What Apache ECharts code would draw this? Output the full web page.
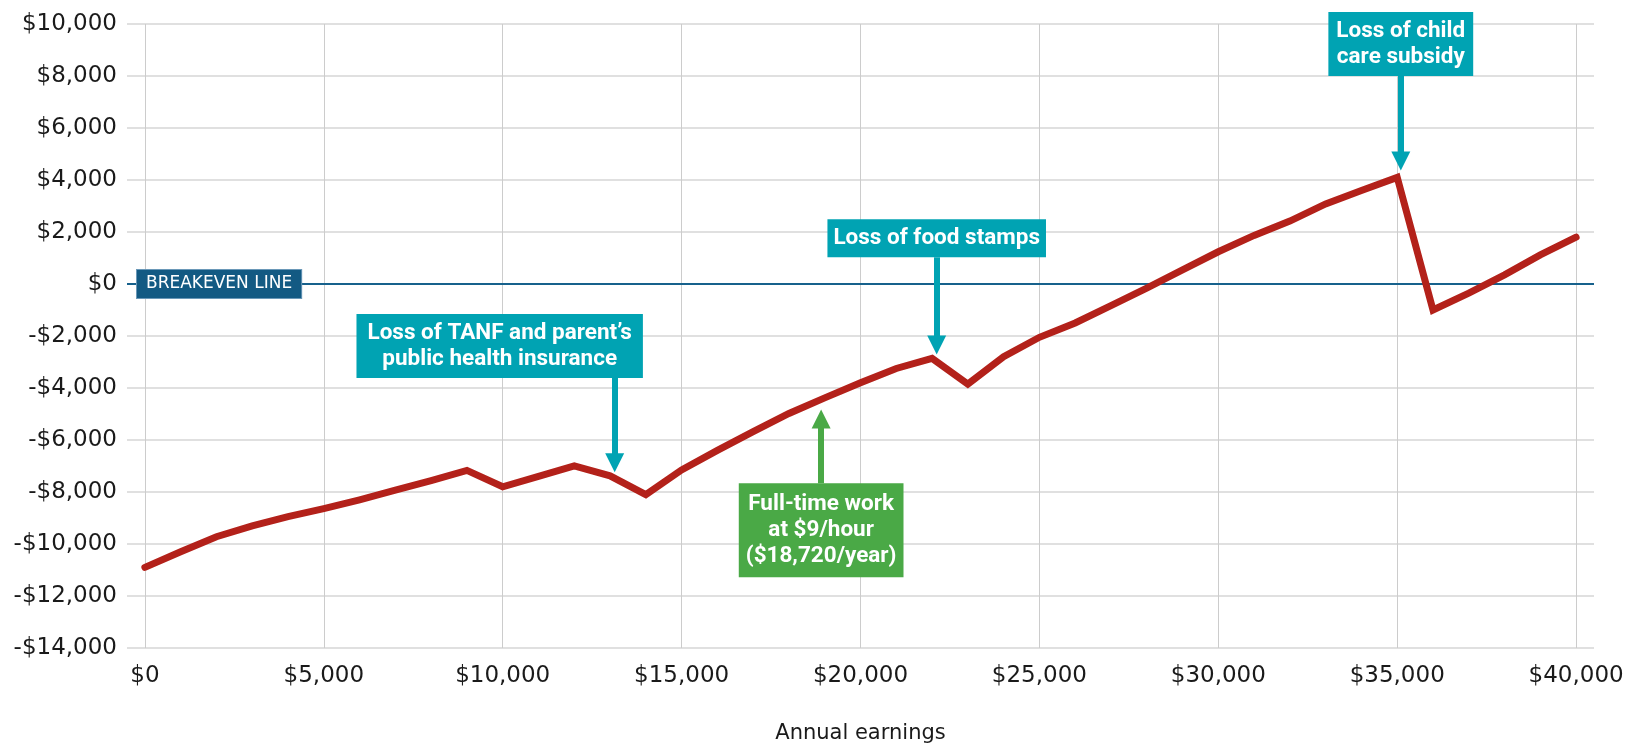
<!DOCTYPE html>
<html>
<head>
<meta charset="utf-8">
<script src="https://cdn.jsdelivr.net/npm/echarts@6/dist/echarts.min.js"></script>
<style>
  html, body { margin: 0; padding: 0; background: #ffffff; }
  #chart { width: 1625px; height: 746px; }
</style>
</head>
<body>
<div id="chart"></div>
<script>
// annual earnings (x) and net gain vs. zero earnings (y)
const earnings = [
  0, 1000, 2000, 3000, 4000, 5000, 6000, 7000, 8000, 9000,
  10000, 11000, 12000, 13000, 14000, 15000, 16000, 17000, 18000, 19000,
  20000, 21000, 22000, 23000, 24000, 25000, 26000, 27000, 28000, 29000,
  30000, 31000, 32000, 33000, 34000, 35000, 36000, 37000, 38000, 39000, 40000
];
const netGain = [
  -10900, -10300, -9720, -9300, -8950, -8640, -8300, -7930, -7560, -7170,
  -7800, -7400, -7000, -7380, -8100, -7150, -6400, -5680, -4980, -4380,
  -3800, -3250, -2860, -3850, -2800, -2050, -1500, -830, -160, 540,
  1240, 1870, 2420, 3080, 3600, 4100, -1000, -350, 350, 1120, 1800
];
const xTickValues = [0, 5000, 10000, 15000, 20000, 25000, 30000, 35000, 40000];
const breakevenLabel = 'BREAKEVEN LINE';

// annotations: text, x position, where the arrow starts (box edge) and ends (arrow head centre)
const noteText = [
  'Loss of TANF and parent\u2019s\npublic health insurance',
  'Loss of food stamps',
  'Full-time work\nat $9/hour\n($18,720/year)',
  'Loss of child\ncare subsidy'
];
const noteX = [13130, 22130, 18900, 35100];
const noteFrom = [-3615, 1027, -7665, 8000];
const noteTo = [-6874, -2346, -5192, 4731];

const teal = '#00a3b3';
const green = '#4aa946';
const noteColor = [teal, teal, green, teal];
const notePadding = [[6, 11], [6, 6], [8, 7], [6, 8]];
const noteOffset = [[-115, 0], [0, 0], [0, 0], [0, 0]];

function money(value) {
  const text = '$' + Math.abs(value).toLocaleString('en-US');
  return value < 0 ? '-' + text : text;
}

const noteLines = noteText.map((text, i) => {
  const pointsUp = noteTo[i] > noteFrom[i];
  return [
    {
      coord: [noteX[i], noteFrom[i]],
      lineStyle: { color: noteColor[i], width: 6, type: 'solid' },
      label: {
        show: true,
        position: 'start',
        distance: 0,
        formatter: text,
        align: 'center',
        verticalAlign: pointsUp ? 'top' : 'bottom',
        offset: noteOffset[i],
        color: '#ffffff',
        fontFamily: 'Roboto',
        fontWeight: 'bold',
        fontSize: 22.5,
        lineHeight: 26,
        backgroundColor: noteColor[i],
        padding: notePadding[i]
      }
    },
    { coord: [noteX[i], noteTo[i]] }
  ];
});

const chart = echarts.init(document.getElementById('chart'), null, { renderer: 'canvas' });
chart.setOption({
  animation: false,
  backgroundColor: '#ffffff',
  grid: {
    left: 127,
    right: 31,
    top: 24,
    bottom: 98,
    containLabel: false,
    outerBoundsMode: 'none'
  },
  xAxis: {
    type: 'value',
    min: -500,
    max: 40500,
    name: 'Annual earnings',
    nameLocation: 'middle',
    nameGap: 75,
    nameTextStyle: { color: '#1a1a1a', fontFamily: 'DejaVu Sans', fontSize: 21 },
    axisLine: { show: false },
    axisTick: {
      show: true,
      length: 10,
      customValues: xTickValues,
      lineStyle: { color: '#cccccc', width: 1 }
    },
    axisLabel: {
      customValues: xTickValues,
      margin: 17,
      color: '#1a1a1a',
      fontFamily: 'DejaVu Sans',
      fontSize: 23,
      formatter: money
    },
    splitLine: {
      show: true,
      lineStyle: { color: '#cccccc', width: 1 }
    }
  },
  yAxis: {
    type: 'value',
    min: -14000,
    max: 10000,
    interval: 2000,
    axisLine: { show: false },
    axisTick: { show: false },
    axisLabel: {
      margin: 10,
      color: '#1a1a1a',
      fontFamily: 'DejaVu Sans',
      fontSize: 23,
      formatter: money
    },
    splitLine: {
      show: true,
      lineStyle: { color: '#d6d6d6', width: 1.5 }
    }
  },
  series: [
    {
      name: 'Breakeven',
      type: 'line',
      data: [],
      silent: true,
      markLine: {
        z: 1,
        silent: true,
        symbol: 'none',
        animation: false,
        emphasis: { disabled: true },
        data: [{
          yAxis: 0,
          lineStyle: { color: '#17618c', width: 2, type: 'solid' },
          label: {
            show: true,
            position: 'insideStart',
            distance: 10,
            formatter: breakevenLabel,
            color: '#ffffff',
            fontFamily: 'DejaVu Sans',
            fontSize: 17,
            lineHeight: 18,
            backgroundColor: '#135a83',
            borderColor: '#6a98b8',
            borderWidth: 1,
            padding: [5, 9]
          }
        }]
      }
    },
    {
      name: 'Net gain',
      type: 'line',
      z: 3,
      data: earnings.map((x, i) => [x, netGain[i]]),
      showSymbol: false,
      symbol: 'none',
      silent: true,
      lineStyle: { color: '#b3211a', width: 7, join: 'miter', cap: 'round' },
      markLine: {
        silent: true,
        symbol: ['none', 'triangle'],
        symbolSize: 19,
        animation: false,
        emphasis: { disabled: true },
        data: noteLines
      }
    }
  ]
});
</script>
</body>
</html>
